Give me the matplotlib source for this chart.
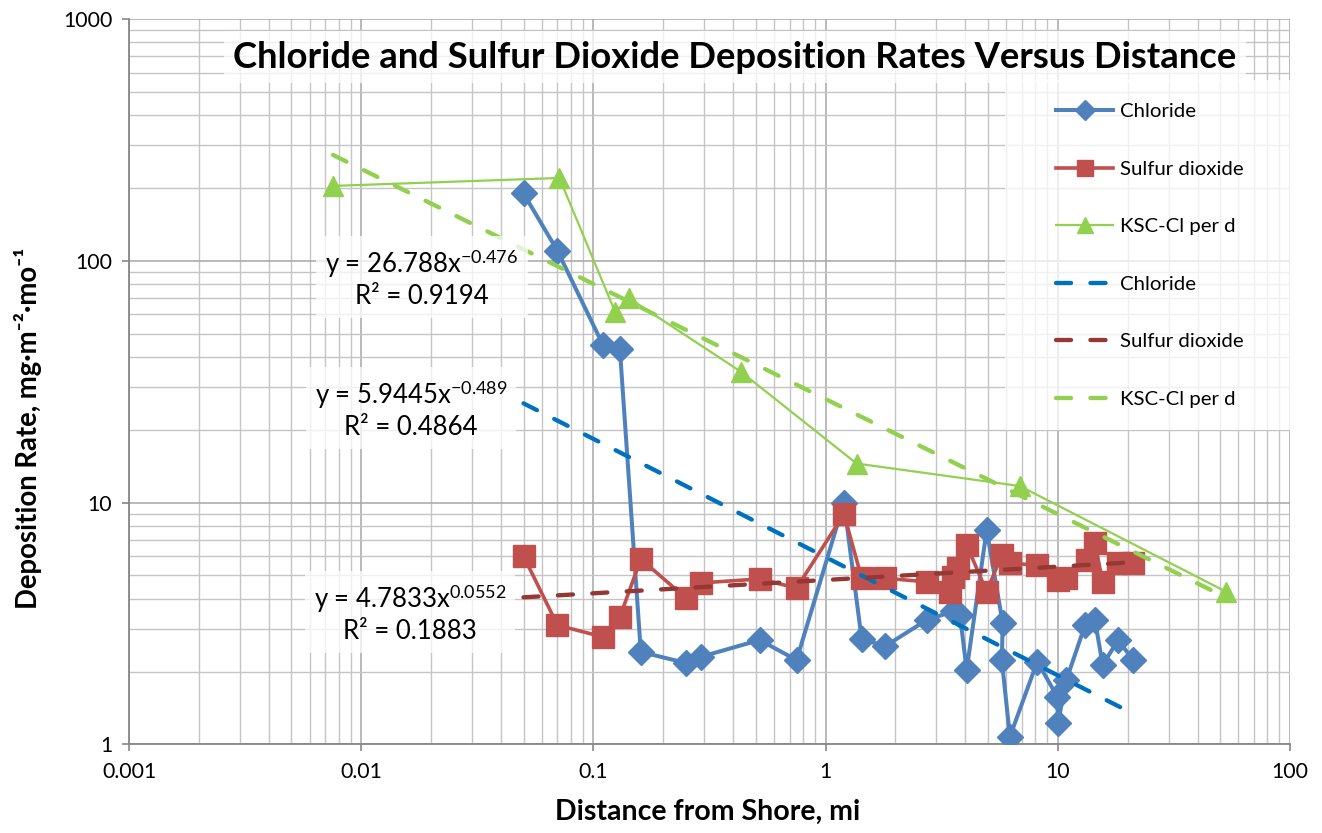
import numpy as np
import matplotlib
matplotlib.use("Agg")
import matplotlib.pyplot as plt
from matplotlib.ticker import LogLocator, NullFormatter, FixedLocator, FixedFormatter
from matplotlib.patches import Rectangle

plt.rcParams['font.family'] = ['Lato', 'DejaVu Sans']
plt.rcParams['mathtext.fontset'] = 'custom'
plt.rcParams['mathtext.rm'] = 'Lato'
plt.rcParams['mathtext.it'] = 'Lato:italic'
plt.rcParams['mathtext.bf'] = 'Lato:bold'

# ---------------- data ----------------
title = "Chloride and Sulfur Dioxide Deposition Rates Versus Distance"
x_label = "Distance from Shore, mi"
y_label = "Deposition Rate, mg·m⁻²·mo⁻¹"

cl_x = [0.05, 0.07, 0.11, 0.13, 0.16, 0.25, 0.29, 0.52, 0.75, 1.2, 1.43, 1.81, 2.73,
        3.55, 3.79, 4.05, 4.94, 5.79, 5.74, 6.22, 8.16, 9.96, 10.0, 10.9, 13.1, 14.45,
        15.6, 18.2, 21.1]
cl_y = [190, 110, 44.8, 43.3, 2.41, 2.17, 2.30, 2.70, 2.23, 10.0, 2.72, 2.55, 3.27,
        3.55, 3.43, 2.03, 7.70, 3.17, 2.23, 1.075, 2.20, 1.57, 1.22, 1.85, 3.11, 3.27,
        2.13, 2.70, 2.23]

so2_x = [0.05, 0.07, 0.11, 0.13, 0.16, 0.25, 0.29, 0.52, 0.75, 1.2, 1.43, 1.81, 2.73,
         3.43, 3.55, 3.7, 4.05, 4.94, 5.74, 6.22, 8.16, 10.0, 10.9, 13.4, 14.45, 15.6,
         18.2, 21.1]
so2_y = [6.01, 3.11, 2.78, 3.36, 5.84, 4.03, 4.65, 4.83, 4.43, 8.96, 4.86, 4.86, 4.70,
         4.28, 4.9, 5.35, 6.67, 4.28, 6.07, 5.61, 5.51, 4.78, 4.86, 5.78, 6.78, 4.70,
         5.61, 5.61]

ksc_x = [0.00756, 0.0714, 0.124, 0.1428, 0.431, 1.36, 6.87, 53.0]
ksc_y = [204, 220, 61.5, 69.9, 34.8, 14.5, 11.7, 4.28]

# power-law trendline coefficients (a, b) for y = a * x^b, and R^2, as labelled
cl_fit = (5.9445, -0.489, 0.4864)
so2_fit = (4.7833, 0.0552, 0.1883)
ksc_fit = (26.788, -0.476, 0.9194)

legend_labels = ["Chloride", "Sulfur dioxide", "KSC-Cl per d",
                 "Chloride", "Sulfur dioxide", "KSC-Cl per d"]

x_ticks = [0.001, 0.01, 0.1, 1, 10, 100]
x_tick_labels = ["0.001", "0.01", "0.1", "1", "10", "100"]
y_ticks = [1, 10, 100, 1000]
y_tick_labels = ["1", "10", "100", "1000"]

# ---------------- styles ----------------
c_cl = "#4F81BD"
c_so2 = "#C0504D"
c_ksc = "#92D050"
c_cl_t = "#0070C0"
c_so2_t = "#953734"
c_ksc_t = "#92D050"

W, H = 1322, 833
fig = plt.figure(figsize=(W / 100, H / 100), dpi=100)
L, R, T, B = 129, 1290, 19, 744.3
ax = fig.add_axes([L / W, 1 - B / H, (R - L) / W, (B - T) / H])
ax.set_xscale("log")
ax.set_yscale("log")
ax.set_xlim(0.001, 100)
ax.set_ylim(1, 1000)

# grid
ax.xaxis.set_minor_locator(LogLocator(base=10, subs=np.arange(2, 10)))
ax.yaxis.set_minor_locator(LogLocator(base=10, subs=np.arange(2, 10)))
ax.xaxis.set_minor_formatter(NullFormatter())
ax.yaxis.set_minor_formatter(NullFormatter())
ax.grid(True, which="major", color="#A6A6A6", linewidth=1.1, zorder=0)
ax.grid(True, which="minor", color="#C4C4C4", linewidth=1.0, zorder=0)
ax.set_axisbelow(True)

ax.xaxis.set_major_locator(FixedLocator(x_ticks))
ax.xaxis.set_major_formatter(FixedFormatter(x_tick_labels))
ax.yaxis.set_major_locator(FixedLocator(y_ticks))
ax.yaxis.set_major_formatter(FixedFormatter(y_tick_labels))
ax.tick_params(which="major", direction="out", length=5, width=1.2, color="#868686",
               labelsize=15.3, labelcolor="black")
ax.tick_params(axis="x", which="major", pad=8)
ax.tick_params(axis="y", which="major", pad=7)
ax.tick_params(which="minor", length=0)
for s in ("top", "right"):
    ax.spines[s].set_visible(False)
for s in ("left", "bottom"):
    ax.spines[s].set_color("#868686")
    ax.spines[s].set_linewidth(1.3)

# data series
h1, = ax.plot(cl_x, cl_y, color=c_cl, lw=2.9, marker="D", ms=13.5, mfc=c_cl, mec=c_cl,
              zorder=3, label=legend_labels[0])
h2, = ax.plot(so2_x, so2_y, color=c_so2, lw=2.6, marker="s", ms=16, mfc=c_so2, mec=c_so2,
              zorder=4, label=legend_labels[1])
h3, = ax.plot(ksc_x, ksc_y, color=c_ksc, lw=1.6, marker="^", ms=15, mfc=c_ksc, mec=c_ksc,
              zorder=5, label=legend_labels[2])

def trend(xs, fit):
    xx = np.geomspace(min(xs), max(xs), 50)
    return xx, fit[0] * xx ** fit[1]

dash = (3.5, 4.5)
tx, ty = trend(cl_x, cl_fit)
h4, = ax.plot(tx, ty, color=c_cl_t, lw=3.1, dashes=dash, dash_capstyle="round",
              zorder=6, label=legend_labels[3])
tx, ty = trend(so2_x, so2_fit)
h5, = ax.plot(tx, ty, color=c_so2_t, lw=3.1, dashes=dash, dash_capstyle="round",
              zorder=6, label=legend_labels[4])
tx, ty = trend(ksc_x, ksc_fit)
h6, = ax.plot(tx, ty, color=c_ksc_t, lw=3.1, dashes=dash, dash_capstyle="round",
              zorder=6, label=legend_labels[5])

def axfrac(px, py):
    return ((px - L) / (R - L), (B - py) / (B - T))

# legend background
lx0, ly0 = axfrac(1005, 430)
lx1, ly1 = axfrac(1290, 80)
ax.add_patch(Rectangle((lx0, ly0), lx1 - lx0, ly1 - ly0, transform=ax.transAxes,
                       facecolor="white", alpha=0.75, edgecolor="none", zorder=7))
ax_leg_x, ax_leg_y = axfrac(1056, 103)
leg = ax.legend(handles=[h1, h2, h3, h4, h5, h6], loc="upper left",
                bbox_to_anchor=(ax_leg_x, ax_leg_y), frameon=False, borderpad=0,
                borderaxespad=0, fontsize=14.7, labelspacing=1.97, handlelength=2.8,
                handletextpad=0.35, markerscale=0.75)
leg.set_zorder(8)

# title with translucent box
tx_, ty_ = axfrac(735, 57)
ax.text(tx_, ty_, title, transform=ax.transAxes, ha="center", va="center",
        fontsize=26.2, fontweight="bold", zorder=9,
        bbox=dict(boxstyle="square,pad=0.25", facecolor="white", alpha=0.75,
                  edgecolor="none"))

# trendline equation labels
def eq_label(px, py, fit):
    a, b, r2 = fit
    txt = "y = %sx$^{%s}$\nR² = %s" % (f"{a:g}", f"{b:g}", f"{r2:.4f}")
    fx, fy = axfrac(px, py)
    ax.text(fx, fy, txt, transform=ax.transAxes, ha="center", va="center",
            fontsize=18.5, linespacing=1.2, zorder=9,
            bbox=dict(boxstyle="square,pad=0.35", facecolor="white", alpha=0.75,
                      edgecolor="none"))

eq_label(422, 278, ksc_fit)
eq_label(411, 409, cl_fit)
eq_label(410, 613, so2_fit)

fig.text(708 / W, 1 - 812 / H, x_label, ha="center", va="center",
         fontsize=20.5, fontweight="bold")
fig.text(28 / W, 1 - 428 / H, y_label, ha="center", va="center", rotation=90,
         fontsize=19.8, fontweight="bold")

fig.savefig("out.png", dpi=100, facecolor="white")
